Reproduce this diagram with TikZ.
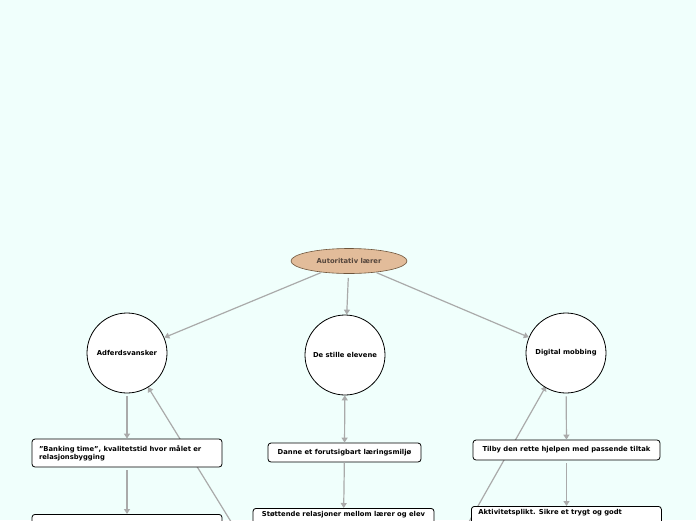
\documentclass[tikz,border=0pt]{standalone}
\usepackage{fontspec}
\setmainfont{DejaVu Sans}
\usetikzlibrary{arrows.meta,shapes.geometric}
\definecolor{bg}{RGB}{240,255,252}
\definecolor{edgegray}{RGB}{170,170,170}
\definecolor{tanfill}{RGB}{226,188,154}
\definecolor{tanborder}{RGB}{110,85,60}
\definecolor{tantext}{RGB}{85,70,60}
\tikzset{
  rootnode/.style={ellipse, draw=tanborder, fill=tanfill, line width=0.6pt, minimum width=116pt, minimum height=25pt, inner sep=0pt, font=\fontsize{6.8}{8}\selectfont\bfseries, text=tantext},
  topic/.style={circle, draw=black, fill=white, line width=0.8pt, minimum size=80pt, inner sep=0pt, font=\fontsize{6.8}{8}\selectfont\bfseries},
  sub/.style={rectangle, rounded corners=3pt, draw=black, fill=white, line width=0.8pt, inner xsep=7pt, inner ysep=0pt, font=\fontsize{6.8}{8.5}\selectfont\bfseries},
  cutbox/.style={sub, anchor=north, text height=5pt, text depth=16pt, inner ysep=3pt},
  conn/.style={draw=edgegray, line width=1.2pt, -{Triangle[length=5pt,width=6pt]}},
  connb/.style={draw=edgegray, line width=1.2pt, {Triangle[length=5pt,width=6pt]}-{Triangle[length=5pt,width=6pt]}},
}
\begin{document}
\begin{tikzpicture}[x=1pt,y=-1pt]
\useasboundingbox (0,0) rectangle (696,520);
\fill[bg] (0,0) rectangle (696,520);
\clip (0,0) rectangle (696,520);

% off-screen sources
\coordinate (srcL) at (262,572);
\coordinate (srcR) at (440,573);
\coordinate (adfin) at (148,387);
\coordinate (digin) at (546,386);

\draw[conn] (srcL) -- (adfin);
\draw[conn] (srcR) -- (digin);

\node[rootnode] (root) at (349,261) {Autoritativ lærer};
\node[topic] (adf) at (127,353) {Adferdsvansker};
\node[topic] (stille) at (345,355) {De stille elevene};
\node[topic] (dig) at (566,353) {Digital mobbing};

\node[sub, minimum width=190pt, minimum height=28pt, text width=176pt, align=left] (bank) at (127,453) {\hyphenpenalty=10000 "Banking time", kvalitetstid hvor målet er\\relasjonsbygging};
\node[sub, minimum width=190pt, minimum height=28pt, anchor=north] (botl) at (127,514) {};
\node[sub, minimum width=153pt, minimum height=19pt] (danne) at (344.5,452.5) {Danne et forutsigbart læringsmiljø};
\node[cutbox, minimum width=181pt] (stott) at (343.5,508) {Støttende relasjoner mellom lærer og elev};
\node[sub, minimum width=187pt, minimum height=20pt] (tilby) at (566.5,450) {Tilby den rette hjelpen med passende tiltak};
\node[cutbox, anchor=north west, text width=176pt, align=left] (aktiv) at (471,506) {Aktivitetsplikt. Sikre et trygt og godt};

\draw[conn, shorten <=1pt] (root) -- (adf);
\draw[conn, shorten <=4pt] (root) -- (stille);
\draw[conn, shorten <=1pt] (root) -- (dig);
\draw[conn, shorten <=3pt] (adf) -- (bank);
\draw[conn, shorten <=3pt] (bank.south) -- (botl.north);
\draw[connb] (stille) -- (danne);
\draw[conn] (danne) -- (stott);
\draw[conn, shorten <=3pt] (dig) -- (tilby);
\draw[conn, shorten <=3pt] (tilby.south) -- (tilby.south |- aktiv.north);
\end{tikzpicture}
\end{document}
